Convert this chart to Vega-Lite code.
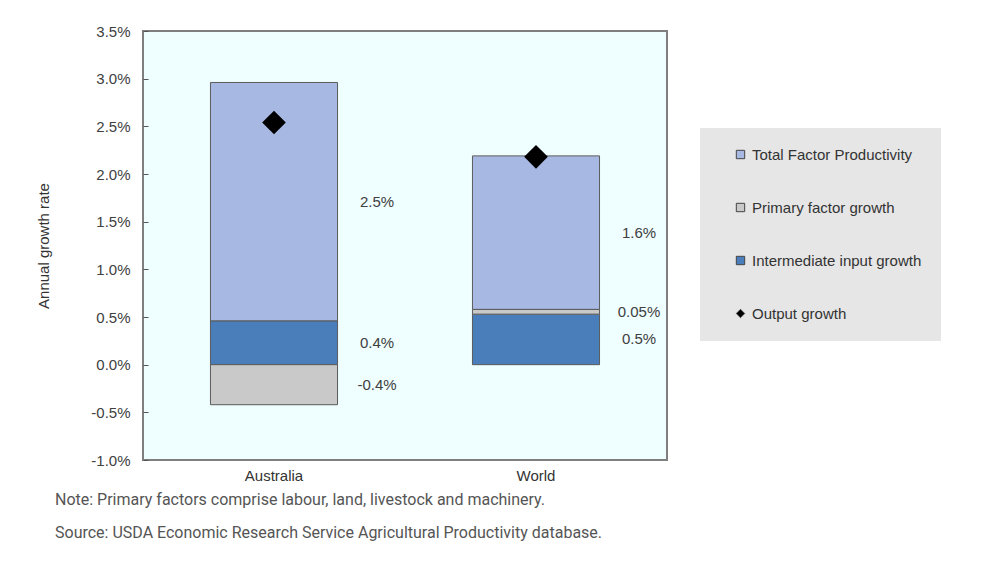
{
  "$schema": "https://vega.github.io/schema/vega-lite/v6.json",
  "autosize": {"type": "none"},
  "width": 524,
  "height": 429,
  "padding": {"left": 143, "top": 31, "right": 331, "bottom": 102},
  "background": "white",
  "datasets": {
    "bars": [
      {"region": "Australia", "series": "Intermediate input growth", "value": 0.0046, "ord": 1, "label": "0.4%"},
      {"region": "Australia", "series": "Primary factor growth", "value": -0.0042, "ord": 2, "label": "-0.4%"},
      {"region": "Australia", "series": "Total Factor Productivity", "value": 0.025, "ord": 3, "label": "2.5%"},
      {"region": "World", "series": "Intermediate input growth", "value": 0.0053, "ord": 1, "label": "0.5%"},
      {"region": "World", "series": "Primary factor growth", "value": 0.0005, "ord": 2, "label": "0.05%"},
      {"region": "World", "series": "Total Factor Productivity", "value": 0.0161, "ord": 3, "label": "1.6%"}
    ],
    "output": [
      {"region": "Australia", "series": "Output growth", "value": 0.0254},
      {"region": "World", "series": "Output growth", "value": 0.0218}
    ]
  },
  "title": {
    "text": ["Note: Primary factors comprise labour, land, livestock and machinery.", "Source: USDA Economic Research Service Agricultural Productivity database."],
    "orient": "bottom",
    "anchor": "start",
    "frame": "group",
    "dx": -88,
    "offset": 9,
    "font": "Roboto",
    "fontSize": 16,
    "fontWeight": "normal",
    "color": "#555555",
    "lineHeight": 33
  },
  "config": {
    "view": {"fill": "#effefe", "stroke": "#7f7f7f", "strokeWidth": 2},
    "axis": {"labelFont": "Liberation Sans", "titleFont": "Liberation Sans", "labelColor": "#404040", "titleColor": "#333333", "grid": false, "domain": false},
    "legend": {
      "orient": "none",
      "legendX": 557,
      "legendY": 97,
      "fillColor": "#e6e6e6",
      "padding": 19,
      "symbolOffset": 14,
      "rowPadding": 37,
      "labelFont": "Liberation Sans",
      "labelFontSize": 15,
      "labelColor": "#333333",
      "labelOffset": 4,
      "labelLimit": 400,
      "symbolSize": 70,
      "symbolStrokeColor": "#444444",
      "symbolStrokeWidth": 1,
      "title": null
    }
  },
  "encoding": {
    "x": {
      "field": "region",
      "type": "nominal",
      "scale": {"paddingInner": 0.515, "paddingOuter": 0.2575},
      "axis": {"title": null, "labelAngle": 0, "ticks": false, "labelPadding": 8, "labelFontSize": 15, "labelColor": "#333333"}
    }
  },
  "layer": [
    {
      "data": {"name": "bars"},
      "transform": [
        {"stack": "value", "groupby": ["region"], "sort": [{"field": "ord", "order": "ascending"}], "as": ["v0", "v1"], "offset": "zero"}
      ],
      "mark": {"type": "bar", "stroke": "#5a5a5a", "strokeWidth": 1},
      "encoding": {
        "y": {
          "field": "v0",
          "type": "quantitative",
          "scale": {"domain": [-0.01, 0.035], "nice": false, "zero": false},
          "axis": {
            "values": [-0.01, -0.005, 0, 0.005, 0.01, 0.015, 0.02, 0.025, 0.03, 0.035],
            "format": ".1%",
            "labelExpr": "replace(datum.label, '−', '-')",
            "title": "Annual growth rate",
            "titleFontSize": 15,
            "titleFontWeight": "normal",
            "titlePadding": 39,
            "labelFontSize": 15,
            "tickSize": -5,
            "tickColor": "#555555",
            "labelPadding": 18
          }
        },
        "y2": {"field": "v1"},
        "color": {
          "field": "series",
          "type": "nominal",
          "scale": {
            "domain": ["Total Factor Productivity", "Primary factor growth", "Intermediate input growth", "Output growth"],
            "range": ["#a7b8e2", "#c9c9c9", "#4a7ebb", "#000000"]
          }
        }
      }
    },
    {
      "data": {"name": "bars"},
      "transform": [
        {"stack": "value", "groupby": ["region"], "sort": [{"field": "ord", "order": "ascending"}], "as": ["v0", "v1"], "offset": "zero"},
        {"calculate": "(datum.v0 + datum.v1) / 2", "as": "mid"}
      ],
      "mark": {"type": "text", "dx": 103, "font": "Liberation Sans", "fontSize": 15, "color": "#404040", "align": "center", "baseline": "middle"},
      "encoding": {
        "y": {"field": "mid", "type": "quantitative"},
        "text": {"field": "label"}
      }
    },
    {
      "mark": {"type": "rule", "color": "#555555", "strokeWidth": 1.5},
      "encoding": {"y": {"datum": 0, "type": "quantitative"}}
    },
    {
      "data": {"name": "output"},
      "mark": {"type": "point", "filled": true, "size": 560, "opacity": 1, "strokeWidth": 0},
      "encoding": {
        "y": {"field": "value", "type": "quantitative"},
        "color": {"field": "series", "type": "nominal"},
        "shape": {
          "field": "series",
          "type": "nominal",
          "scale": {
            "domain": ["Total Factor Productivity", "Primary factor growth", "Intermediate input growth", "Output growth"],
            "range": ["square", "square", "square", "diamond"]
          }
        }
      }
    }
  ]
}
